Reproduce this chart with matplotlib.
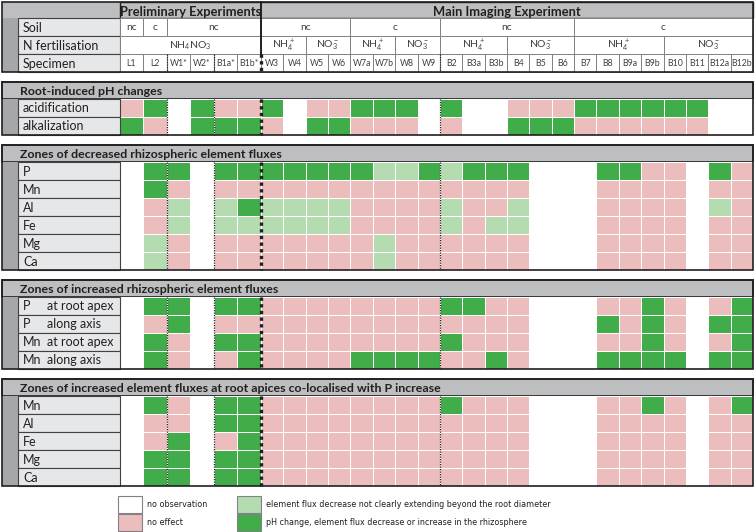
import numpy as np
import matplotlib

matplotlib.use('Agg')
import matplotlib.pyplot as plt
from matplotlib.patches import Rectangle
from matplotlib.colors import ListedColormap

# 0 = no observation, 1 = no effect, 2 = light green, 3 = green
specimens = ["L1", "L2", "W1*", "W2*", "B1a*", "B1b*",
             "W3", "W4", "W5", "W6", "W7a", "W7b", "W8", "W9",
             "B2", "B3a", "B3b", "B4", "B5", "B6",
             "B7", "B8", "B9a", "B9b", "B10", "B11", "B12a", "B12b"]
soil_groups = [("nc", 1), ("c", 1), ("nc", 4), ("nc", 4), ("c", 4), ("nc", 6), ("c", 8)]
fert_groups = [("NH$_4$NO$_3$", 6), ("NH$_4^+$", 2), ("NO$_3^-$", 2), ("NH$_4^+$", 2), ("NO$_3^-$", 2),
               ("NH$_4^+$", 3), ("NO$_3^-$", 3), ("NH$_4^+$", 4), ("NO$_3^-$", 4)]

ph_labels = ["acidification", "alkalization"]
ph_values = [
    [1, 3, 0, 3, 1, 1, 3, 0, 1, 1, 3, 3, 3, 0, 3, 0, 0, 1, 1, 1, 3, 3, 3, 3, 3, 3, 0, 0],
    [3, 1, 0, 3, 3, 3, 1, 0, 3, 3, 1, 1, 1, 0, 1, 0, 0, 3, 3, 3, 1, 1, 1, 1, 1, 1, 0, 0],
]

dec_labels = ["P", "Mn", "Al", "Fe", "Mg", "Ca"]
dec_values = [
    [0, 3, 3, 0, 3, 3, 3, 3, 3, 3, 3, 2, 2, 3, 2, 3, 3, 3, 0, 0, 0, 3, 3, 1, 1, 0, 3, 1],
    [0, 3, 1, 0, 1, 1, 1, 1, 1, 1, 1, 1, 1, 1, 1, 1, 1, 1, 0, 0, 0, 1, 1, 1, 1, 0, 1, 1],
    [0, 1, 2, 0, 2, 3, 2, 2, 2, 2, 1, 1, 1, 1, 2, 1, 1, 2, 0, 0, 0, 1, 1, 1, 1, 0, 2, 1],
    [0, 1, 2, 0, 2, 2, 2, 2, 2, 2, 1, 1, 1, 1, 2, 1, 2, 2, 0, 0, 0, 1, 1, 1, 1, 0, 1, 1],
    [0, 2, 1, 0, 1, 1, 1, 1, 1, 1, 1, 2, 1, 1, 1, 1, 1, 1, 0, 0, 0, 1, 1, 1, 1, 0, 1, 1],
    [0, 2, 1, 0, 1, 1, 1, 1, 1, 1, 1, 2, 1, 1, 1, 1, 1, 1, 0, 0, 0, 1, 1, 1, 1, 0, 1, 1],
]

inc_labels = [("P", "at root apex"), ("P", "along axis"), ("Mn", "at root apex"), ("Mn", "along axis")]
inc_values = [
    [0, 3, 3, 0, 3, 3, 1, 1, 1, 1, 1, 1, 1, 1, 3, 3, 1, 1, 0, 0, 0, 1, 1, 3, 1, 0, 1, 3],
    [0, 1, 3, 0, 1, 1, 1, 1, 1, 1, 1, 1, 1, 1, 1, 1, 1, 1, 0, 0, 0, 3, 1, 3, 1, 0, 3, 3],
    [0, 3, 1, 0, 3, 3, 1, 1, 1, 1, 1, 1, 1, 1, 3, 1, 1, 1, 0, 0, 0, 1, 1, 3, 1, 0, 1, 3],
    [0, 3, 1, 0, 1, 3, 1, 1, 1, 1, 3, 3, 3, 3, 1, 1, 3, 1, 0, 0, 0, 3, 3, 3, 3, 0, 3, 3],
]

col_labels = ["Mn", "Al", "Fe", "Mg", "Ca"]
col_values = [
    [0, 3, 1, 0, 3, 3, 1, 1, 1, 1, 1, 1, 1, 1, 3, 1, 1, 1, 0, 0, 0, 1, 1, 3, 1, 0, 1, 3],
    [0, 1, 1, 0, 3, 3, 1, 1, 1, 1, 1, 1, 1, 1, 1, 1, 1, 1, 0, 0, 0, 1, 1, 1, 1, 0, 1, 1],
    [0, 1, 3, 0, 1, 3, 1, 1, 1, 1, 1, 1, 1, 1, 1, 1, 1, 1, 0, 0, 0, 1, 1, 1, 1, 0, 1, 1],
    [0, 3, 3, 0, 3, 3, 1, 1, 1, 1, 1, 1, 1, 1, 1, 1, 1, 1, 0, 0, 0, 1, 1, 1, 1, 0, 1, 1],
    [0, 3, 3, 0, 3, 3, 1, 1, 1, 1, 1, 1, 1, 1, 1, 1, 1, 1, 0, 0, 0, 1, 1, 1, 1, 0, 1, 1],
]

sections = [
    ("Root-induced pH changes", ph_labels, ph_values),
    ("Zones of decreased rhizospheric element fluxes", dec_labels, dec_values),
    ("Zones of increased rhizospheric element fluxes", inc_labels, inc_values),
    ("Zones of increased element fluxes at root apices co-localised with P increase", col_labels, col_values),
]

legend_items = ["no observation", "no effect",
                "element flux decrease not clearly extending beyond the root diameter",
                "pH change, element flux decrease or increase in the rhizosphere"]

WHITE, PINK, LGREEN, GREEN = "#ffffff", "#ebbebd", "#b5dbb0", "#41ad4a"
GRAY, DGRAY, LABEL = "#bcbec0", "#a5a7aa", "#e6e7e8"
cmap = ListedColormap([WHITE, PINK, LGREEN, GREEN])

plt.rcParams['font.family'] = ['Lato', 'DejaVu Sans']
plt.rcParams['mathtext.default'] = 'regular'

fig = plt.figure(figsize=(7.55, 5.32), dpi=100)
ax = fig.add_axes([0, 0, 1, 1])
ax.set_xlim(0, 755)
ax.set_ylim(532, 0)
ax.axis('off')

X0, X1, XR, XL = 2, 18, 753, 119.5
xe = np.concatenate([np.linspace(XL, 261, 7), np.linspace(261, XR, 23)[1:]])
dotted = [(2, 0.9), (4, 0.9), (6, 2.4), (14, 0.9)]
LBL = 9

# ---- top header ----
ax.add_patch(Rectangle((X0, 2), XL - X0, 16, fc=GRAY, ec='none'))
ax.add_patch(Rectangle((X0, 18), X1 - X0, 54, fc=DGRAY, ec='none'))
ax.add_patch(Rectangle((XL, 2), XR - XL, 16, fc=GRAY, ec='#231f20', lw=1))
ax.text((XL + 261) / 2, 11.5, "Preliminary Experiments", ha='center', va='center',
        fontsize=9.3, fontweight='bold', color='#231f20')
ax.text((261 + XR) / 2, 11.5, "Main Imaging Experiment", ha='center', va='center',
        fontsize=9.3, fontweight='bold', color='#231f20')
for i, name in enumerate(["Soil", "N fertilisation", "Specimen"]):
    y = 18 + 18 * i
    ax.add_patch(Rectangle((X1, y), XL - X1, 18, fc=LABEL, ec='#414042', lw=0.8))
    ax.text(X1 + 5, y + 9.5, name, va='center', fontsize=LBL, color='#231f20')


def group_row(groups, y, size):
    i = 0
    for txt, n in groups:
        ax.add_patch(Rectangle((xe[i], y), xe[i + n] - xe[i], 18, fc='white', ec='#808285', lw=0.7))
        ax.text((xe[i] + xe[i + n]) / 2, y + 9.5, txt, ha='center', va='center',
                fontsize=size, color='#414042')
        i += n


group_row(soil_groups, 18, 7.5)
group_row(fert_groups, 36, 7.5)
for i, s in enumerate(specimens):
    ax.add_patch(Rectangle((xe[i], 54), xe[i + 1] - xe[i], 18, fc='white', ec='#808285', lw=0.7))
    ax.text((xe[i] + xe[i + 1]) / 2, 63.5, s, ha='center', va='center', fontsize=6.3, color='#414042')
ax.plot([261, 261], [2, 54], color='#231f20', lw=1.4)
for k, lw in dotted:
    ax.plot([xe[k], xe[k]], [54, 72], color='#231f20', lw=lw, ls=(0, (1, 1)))
ax.add_patch(Rectangle((X0, 2), XR - X0, 70, fc='none', ec='#231f20', lw=1.2))

# ---- sections ----
top = 82
for title, labels, values in sections:
    n = len(labels)
    ax.add_patch(Rectangle((X0, top), XR - X0, 17, fc=GRAY, ec='#231f20', lw=1.2))
    ax.text(X1 + 2, top + 9.8, title, va='center', fontsize=8.9, fontweight='bold', color='#231f20')
    y0 = top + 17
    ax.add_patch(Rectangle((X0, y0), X1 - X0, 18 * n, fc=DGRAY, ec='none'))
    ye = y0 + 18 * np.arange(n + 1)
    ax.pcolormesh(xe, ye, np.array(values), cmap=cmap, vmin=-0.5, vmax=3.5,
                  edgecolors='white', linewidth=0.6)
    for r, lab in enumerate(labels):
        y = y0 + 18 * r
        ax.add_patch(Rectangle((X1, y), XL - X1, 18, fc=LABEL, ec='#414042', lw=0.8))
        if isinstance(lab, tuple):
            ax.text(X1 + 5, y + 9.5, lab[0], va='center', fontsize=LBL, color='#231f20')
            ax.text(X1 + 29, y + 9.5, lab[1], va='center', fontsize=LBL, color='#231f20')
        else:
            ax.text(X1 + 5, y + 9.5, lab, va='center', fontsize=LBL, color='#231f20')
    for k, lw in dotted:
        ax.plot([xe[k], xe[k]], [y0, y0 + 18 * n], color='#231f20', lw=lw, ls=(0, (1, 1)))
    ax.add_patch(Rectangle((X0, top), XR - X0, 17 + 18 * n, fc='none', ec='#231f20', lw=1.2))
    top = y0 + 18 * n + 10

# ---- legend ----
leg_colors = [WHITE, PINK, LGREEN, GREEN]
for j, (txt, c) in enumerate(zip(legend_items, leg_colors)):
    lx = 118 if j < 2 else 237
    ly = 496 + 18 * (j % 2)
    ax.add_patch(Rectangle((lx, ly), 24, 17, fc=c, ec='#808285', lw=0.8))
    ax.text(lx + 29, ly + 8.5, txt, va='center', fontsize=5.8, color='#231f20',
            family=['Liberation Sans Narrow', 'DejaVu Sans'])

fig.savefig("out.png", dpi=100)
